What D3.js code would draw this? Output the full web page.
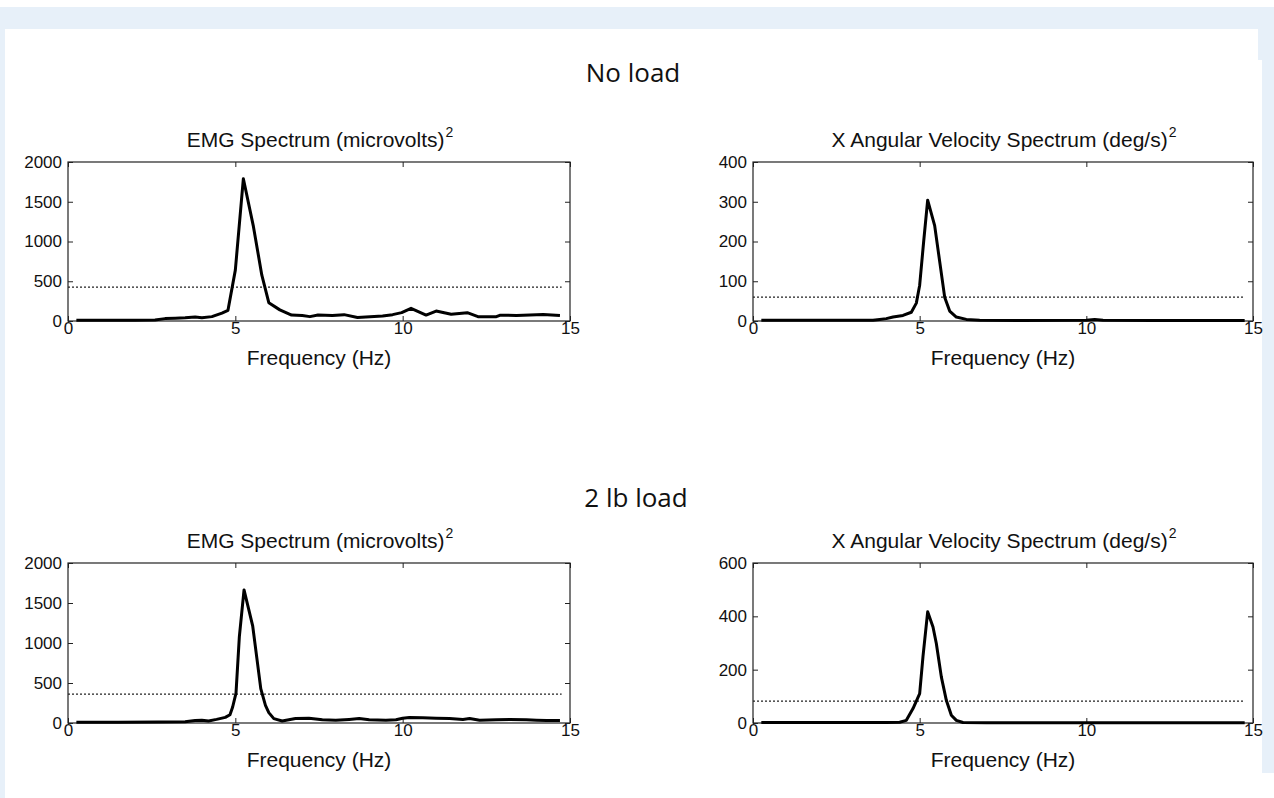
<!DOCTYPE html>
<html>
<head>
<meta charset="utf-8">
<script src="https://cdn.jsdelivr.net/npm/d3@7"></script>
<style>
  body { margin: 0; background: #fff; }
  svg { display: block; }
</style>
</head>
<body>
<div id="container"></div>
<script>
// spectra (frequency in Hz, power)
const emgNoLoadHz = [0.25, 1.0, 2.0, 2.6, 2.9, 3.2, 3.5, 3.8, 4.0, 4.3, 4.6, 4.78, 5.0, 5.24, 5.54, 5.79, 6.0, 6.33, 6.68, 7.0, 7.23, 7.47, 7.9, 8.25, 8.65, 8.9, 9.4, 9.7, 9.97, 10.25, 10.7, 11.0, 11.45, 11.93, 12.25, 12.8, 12.9, 13.4, 14.2, 14.7];
const emgNoLoad = [8, 8, 8, 12, 30, 35, 40, 50, 40, 55, 100, 135, 640, 1790, 1190, 580, 230, 140, 75, 68, 55, 75, 68, 80, 45, 50, 62, 80, 105, 160, 75, 125, 84, 105, 55, 55, 72, 70, 82, 68];

const velNoLoadHz = [0.25, 2.0, 3.6, 3.8, 4.0, 4.2, 4.5, 4.75, 4.9, 5.0, 5.12, 5.24, 5.45, 5.6, 5.75, 5.9, 6.1, 6.4, 6.8, 8.0, 10.0, 10.25, 10.5, 12.0, 14.75];
const velNoLoad = [2, 2, 2, 4, 6, 10, 14, 22, 45, 90, 200, 304, 240, 150, 60, 25, 10, 4, 2, 1, 2, 4, 2, 1, 1];

const emgLoadHz = [0.25, 1.5, 2.7, 3.5, 3.8, 4.0, 4.2, 4.44, 4.7, 4.84, 4.92, 5.02, 5.12, 5.26, 5.4, 5.52, 5.64, 5.76, 5.9, 6.0, 6.15, 6.4, 6.6, 6.8, 7.2, 7.6, 8.0, 8.4, 8.7, 9.0, 9.5, 9.8, 10.0, 10.2, 10.6, 11.0, 11.4, 11.8, 12.0, 12.3, 12.8, 13.2, 13.7, 14.0, 14.3, 14.7];
const emgLoad = [8, 8, 12, 15, 30, 35, 25, 45, 70, 104, 200, 374, 1080, 1663, 1420, 1210, 820, 430, 220, 130, 55, 25, 40, 55, 58, 40, 35, 45, 55, 40, 35, 40, 60, 70, 65, 60, 55, 45, 55, 35, 40, 45, 40, 35, 30, 30];

const velLoadHz = [0.25, 2.0, 4.0, 4.4, 4.6, 4.8, 5.0, 5.1, 5.24, 5.4, 5.5, 5.65, 5.8, 5.95, 6.1, 6.3, 7.0, 10.0, 14.75];
const velLoad = [2, 2, 2, 3, 10, 54, 110, 250, 417, 360, 298, 173, 85, 29, 10, 2, 1, 1, 1];

// dotted threshold levels
const thresholds = [425, 60, 360, 82];
const thresholdSpan = [0, 14.75];

const xTicks = [0, 5, 10, 15];
const emgTicks = [0, 500, 1000, 1500, 2000];
const velNoLoadTicks = [0, 100, 200, 300, 400];
const velLoadTicks = [0, 200, 400, 600];

const sectionTitles = ["No load", "2 lb load"];
const emgTitle = "EMG Spectrum (microvolts)";
const velTitle = "X Angular Velocity Spectrum (deg/s)";
const xLabel = "Frequency (Hz)";

const W = 1274, H = 798;
const svg = d3.select("#container").append("svg")
  .attr("width", W).attr("height", H);

// page frame
svg.append("rect").attr("x", 0).attr("y", 7).attr("width", W).attr("height", H - 7).attr("fill", "#e7f0f9");
svg.append("rect").attr("x", 5).attr("y", 29).attr("width", 1253).attr("height", H - 29).attr("fill", "#fff");
svg.append("rect").attr("x", 5).attr("y", 60).attr("width", 1257).attr("height", H - 60).attr("fill", "#fff");
svg.append("rect").attr("x", 5).attr("y", 773).attr("width", W - 5).attr("height", H - 773).attr("fill", "#fff");

const panels = [
  { box: [68, 570, 162, 321], hz: emgNoLoadHz, val: emgNoLoad, max: 2000, ticks: emgTicks, title: emgTitle, thr: thresholds[0] },
  { box: [753, 1253, 162, 321], hz: velNoLoadHz, val: velNoLoad, max: 400, ticks: velNoLoadTicks, title: velTitle, thr: thresholds[1] },
  { box: [68, 570, 563, 723], hz: emgLoadHz, val: emgLoad, max: 2000, ticks: emgTicks, title: emgTitle, thr: thresholds[2] },
  { box: [753, 1253, 563, 723], hz: velLoadHz, val: velLoad, max: 600, ticks: velLoadTicks, title: velTitle, thr: thresholds[3] }
];

const font = "'Liberation Sans', Arial, sans-serif";

svg.selectAll(".section")
  .data(sectionTitles)
  .enter()
  .append("text")
  .attr("class", "section")
  .attr("x", (d, i) => (i === 0 ? 633 : 636))
  .attr("y", (d, i) => (i === 0 ? 82 : 507))
  .attr("text-anchor", "middle")
  .style("font-family", "'Open Sans', 'Noto Sans', sans-serif")
  .style("font-size", "26px")
  .attr("fill", "#111")
  .text((d) => d);

panels.forEach((p) => drawPanel(p));

function drawPanel(p) {
  const [left, right, top, bottom] = p.box;
  const x = d3.scaleLinear().domain([0, 15]).range([left, right]);
  const y = d3.scaleLinear().domain([0, p.max]).range([bottom, top]);
  const g = svg.append("g");

  // inward ticks on all four sides, labels only bottom/left
  const styleAxis = (sel) => {
    sel.select(".domain").remove();
    sel.selectAll(".tick line").attr("stroke", "#222");
    sel.selectAll("text")
      .style("font-family", font)
      .style("font-size", "17px")
      .attr("fill", "#111");
  };
  g.append("g").attr("transform", `translate(0,${bottom})`)
    .call(d3.axisBottom(x).tickValues(xTicks).tickSize(-5).tickPadding(1).tickFormat(d3.format("d")))
    .call(styleAxis);
  g.append("g").attr("transform", `translate(0,${top})`)
    .call(d3.axisTop(x).tickValues(xTicks).tickSize(-5).tickFormat(""))
    .call(styleAxis);
  g.append("g").attr("transform", `translate(${left},0)`)
    .call(d3.axisLeft(y).tickValues(p.ticks).tickSize(-5).tickPadding(6).tickFormat(d3.format("d")))
    .call(styleAxis);
  g.append("g").attr("transform", `translate(${right},0)`)
    .call(d3.axisRight(y).tickValues(p.ticks).tickSize(-5).tickFormat(""))
    .call(styleAxis);

  g.append("rect")
    .attr("x", left).attr("y", top)
    .attr("width", right - left).attr("height", bottom - top)
    .attr("fill", "none").attr("stroke", "#222").attr("stroke-width", 1.2);

  // threshold
  g.append("line")
    .attr("x1", x(thresholdSpan[0])).attr("x2", x(thresholdSpan[1]))
    .attr("y1", y(p.thr)).attr("y2", y(p.thr))
    .attr("stroke", "#222").attr("stroke-width", 1.3)
    .attr("stroke-dasharray", "2,2");

  const pts = p.hz.map((h, i) => [h, p.val[i]]);
  const line = d3.line().x((d) => x(d[0])).y((d) => y(d[1]));
  g.append("path")
    .datum(pts)
    .attr("d", line)
    .attr("fill", "none")
    .attr("stroke", "#000")
    .attr("stroke-width", 3)
    .attr("stroke-linejoin", "round");

  const title = g.append("text")
    .attr("x", (left + right) / 2 + 1)
    .attr("y", top - 15)
    .attr("text-anchor", "middle")
    .style("font-family", font)
    .style("font-size", "21px")
    .attr("fill", "#111");
  title.append("tspan").text(p.title);
  title.append("tspan").attr("dy", -10).attr("dx", 1).style("font-size", "14px").text("2");

  g.append("text")
    .attr("x", (left + right) / 2)
    .attr("y", bottom + 44)
    .attr("text-anchor", "middle")
    .style("font-family", font)
    .style("font-size", "21px")
    .attr("fill", "#111")
    .text(xLabel);
}
</script>
</body>
</html>
